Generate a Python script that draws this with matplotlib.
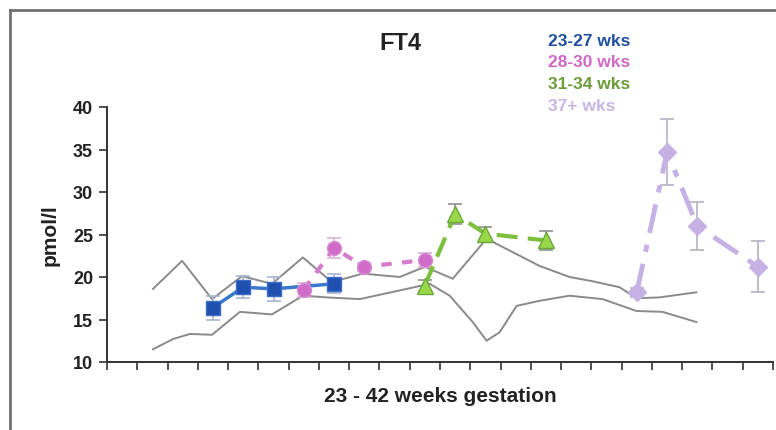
import matplotlib
matplotlib.use("Agg")
import matplotlib.pyplot as plt
from matplotlib.lines import Line2D

plt.rcParams['font.family'] = ['Liberation Sans', 'DejaVu Sans']

# ---- data (x in category units along the 23-42 week axis) ----
blue_x = [3.5, 4.5, 5.5, 7.5]
blue_y = [16.4, 18.8, 18.6, 19.2]
blue_e = [1.4, 1.3, 1.4, 1.1]

pink_x = [6.5, 7.5, 8.5, 10.5]
pink_y = [18.5, 23.4, 21.2, 22.0]
pink_e = [0.8, 1.2, 0.5, 0.8]

green_x = [10.5, 11.5, 12.5, 14.5]
green_y = [19.0, 27.4, 25.1, 24.3]
green_e = [0.6, 1.2, 0.8, 1.1]

lav_x = [17.5, 18.5, 19.5, 21.5]
lav_y = [18.2, 34.7, 26.0, 21.2]
lav_e = [0.5, 3.9, 2.8, 3.0]

upper_x = [1.52, 2.48, 3.47, 4.46, 5.45, 6.47, 7.43, 8.45, 9.67, 10.5, 11.42,
           12.54, 14.29, 15.28, 16.04, 16.93, 17.49, 18.25, 19.47]
upper_y = [18.6, 21.9, 17.4, 20.1, 19.2, 22.3, 19.4, 20.4, 20.0, 21.2, 19.8,
           24.5, 21.3, 20.0, 19.5, 18.8, 17.5, 17.6, 18.2]

lower_x = [1.52, 2.18, 2.74, 3.47, 4.39, 5.45, 6.47, 7.26, 8.35, 9.9, 10.66,
           11.32, 12.08, 12.54, 12.97, 13.53, 14.29, 15.28, 16.37, 17.49,
           18.35, 19.47]
lower_y = [11.5, 12.7, 13.3, 13.2, 15.9, 15.6, 17.8, 17.6, 17.4, 18.6, 19.2,
           17.8, 14.7, 12.5, 13.5, 16.6, 17.2, 17.8, 17.4, 16.0, 15.9, 14.7]

legend_labels = ['23-27 wks', '28-30 wks', '31-34 wks', '37+ wks']
legend_colors = ['#1f4f9f', '#d068c4', '#6a9c3a', '#c6b6e6']

W, H = 776, 431
fig = plt.figure(figsize=(W / 100, H / 100), dpi=100)
ax = fig.add_axes([107 / W, (H - 363) / H, 666 / W, 255 / H])

ax.plot(upper_x, upper_y, color='#8a8a8a', lw=1.4, zorder=2)
ax.plot(lower_x, lower_y, color='#8a8a8a', lw=1.4, zorder=2)

# blue
ax.errorbar(blue_x, blue_y, yerr=blue_e, fmt='none', ecolor='#a8b4d0',
            elinewidth=1.2, capsize=5, capthick=1.2, zorder=3)
ax.plot(blue_x, blue_y, color='#3a78cc', lw=2.5, zorder=4,
        marker='s', markersize=10, markerfacecolor='#1f50b0',
        markeredgecolor='#3a6cc8', markeredgewidth=1)
# pink
ax.errorbar(pink_x, pink_y, yerr=pink_e, fmt='none', ecolor='#d8b0d8',
            elinewidth=1.2, capsize=5, capthick=1.2, zorder=3)
ax.plot(pink_x, pink_y, color='#d67acc', lw=3, ls=(0, (2.5, 2.5)), zorder=4,
        marker='o', markersize=10, markerfacecolor='#cf6cc8',
        markeredgecolor='#d98bd2', markeredgewidth=1)
# green
ax.errorbar(green_x, green_y, yerr=green_e, fmt='none', ecolor='#909090',
            elinewidth=1.2, capsize=5, capthick=1.2, zorder=3)
ax.plot(green_x, green_y, color='#7cbf3c', lw=3, ls=(0, (5, 2.5)), zorder=4,
        marker='^', markersize=11, markerfacecolor='#9ad84a',
        markeredgecolor='#6aa83a', markeredgewidth=1)
# lavender
ax.errorbar(lav_x, lav_y, yerr=lav_e, fmt='none', ecolor='#b4b0c4',
            elinewidth=1.2, capsize=5, capthick=1.2, zorder=3)
ax.plot(lav_x, lav_y, color='#c4b2e4', lw=3.5, ls=(0, (6, 2.5, 1.5, 2.5)),
        zorder=4, marker='D', markersize=9, markerfacecolor='#c4b2e4',
        markeredgecolor='#c4b2e4')

ax.set_xlim(0, 22)
ax.set_ylim(10, 40)
ax.set_xticks(range(0, 23))
ax.set_xticklabels([])
ax.set_yticks([10, 15, 20, 25, 30, 35, 40])
ax.tick_params(axis='both', direction='out', length=6, width=1.2,
               color='#333333', labelsize=13, labelcolor='#222222', pad=4)
for lbl in ax.get_yticklabels():
    lbl.set_fontweight('bold')
for s in ['top', 'right']:
    ax.spines[s].set_visible(False)
for s in ['left', 'bottom']:
    ax.spines[s].set_color('#333333')
    ax.spines[s].set_linewidth(1.4)

ax.set_ylabel('pmol/l', fontsize=15, fontweight='bold', color='#222222',
              labelpad=10)
fig.text(440 / W, 1 - 397 / H, '23 - 42 weeks gestation', fontsize=15,
         fontweight='bold', color='#222222', ha='center', va='center')
fig.text(400 / W, 1 - 43 / H, 'FT4', fontsize=17, fontweight='bold',
         color='#222222', ha='center', va='center')

for i, (lab, col) in enumerate(zip(legend_labels, legend_colors)):
    fig.text(548 / W, 1 - (41 + i * 21.8) / H, lab, fontsize=12.5,
             fontweight='bold', color=col, ha='left', va='center')

# outer frame (partially visible)
fig.add_artist(Line2D([10 / W, 10 / W], [0, 1 - 11 / H], transform=fig.transFigure,
                      color='#707070', lw=2))
fig.add_artist(Line2D([10 / W, 1], [1 - 11 / H, 1 - 11 / H], transform=fig.transFigure,
                      color='#707070', lw=2))

fig.savefig('out.png', dpi=100)
